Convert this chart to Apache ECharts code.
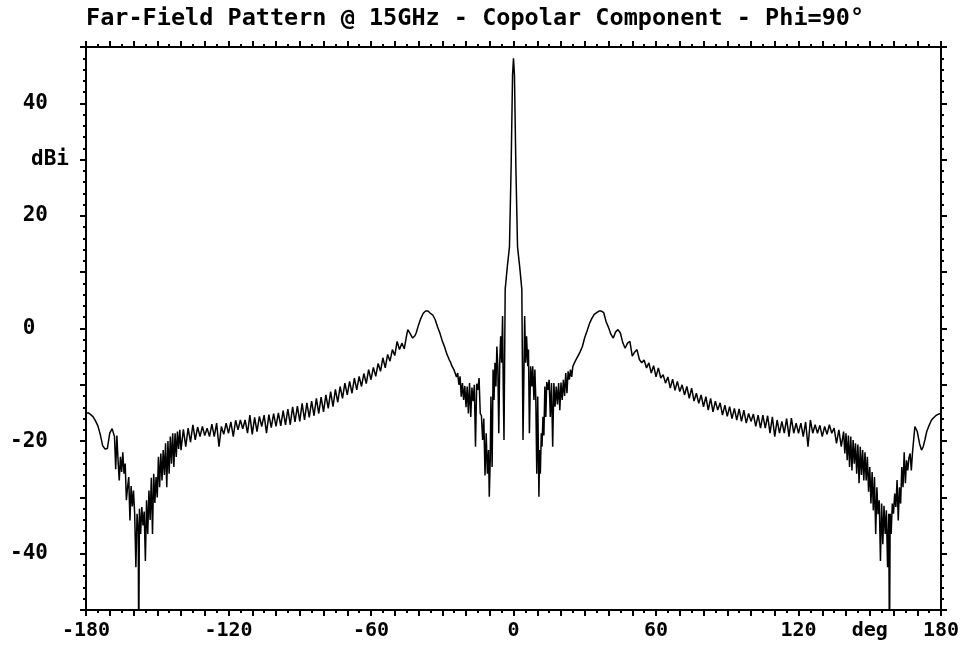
<!DOCTYPE html>
<html>
<head>
<meta charset="utf-8">
<title>Far-Field Pattern</title>
<script src="https://cdn.jsdelivr.net/npm/echarts@6/dist/echarts.min.js"></script>
<style>
html, body { margin: 0; padding: 0; background: #fff; }
#chart { width: 971px; height: 651px; }
</style>
</head>
<body>
<div id="chart"></div>
<script>
var titleText = 'Far-Field Pattern @ 15GHz - Copolar Component - Phi=90\u00b0';
var xTickLabels = {'-180': '-180', '-120': '-120', '-60': '-60', '0': '0', '60': '60', '120': '120', '150': 'deg', '180': '180'};
var yTickLabels = {'40': ' 40', '30': 'dBi', '20': ' 20', '0': ' 0', '-20': '-20', '-40': '-40'};

// [deg, dBi]
var farLeft = [
	[-180, -15.0], [-179, -15.0], [-178, -15.3], [-177, -15.7], [-176, -16.4], [-175, -17.3],
	[-174, -18.8], [-173, -20.8], [-172, -21.4], [-171, -21.3], [-170, -18.6], [-169, -17.8],
	[-168.5, -17.7], [-168, -19.2], [-167.5, -25.0], [-167, -19.0], [-166.5, -23.5], [-166, -27.0],
	[-165.5, -22.8], [-165, -25.5], [-164.5, -22.0], [-164, -25.8], [-163.5, -24.0], [-163, -30.5],
	[-162.5, -28.2], [-162, -26.4], [-161.5, -34.1], [-161, -28.0], [-160.5, -31.6], [-160, -28.8],
	[-159.5, -33.0], [-159, -42.4], [-158.5, -32.9], [-158, -36.0], [-157.8, -58.0], [-157.5, -32.0],
	[-157, -36.5], [-156.5, -31.7], [-156, -35.0], [-155.5, -32.5], [-155, -41.3], [-154.5, -30.5],
	[-154, -36.5], [-153.5, -28.8], [-153, -34.0], [-152.5, -26.5], [-152, -36.5], [-151.5, -25.8],
	[-151, -31.0], [-150.5, -26.4], [-150, -30.0], [-149.5, -22.8], [-149, -28.2], [-148.5, -22.2],
	[-148, -27.0], [-147.5, -21.6], [-147, -26.0], [-146.5, -20.4], [-146, -28.2], [-145.5, -20.0],
	[-145, -25.8], [-144.5, -19.2], [-144, -24.0], [-143.5, -18.6], [-143, -24.6], [-142.5, -18.6],
	[-142, -22.8], [-141.5, -18.3], [-141, -21.4], [-140.5, -18.0], [-140, -21.6], [-139, -17.9],
	[-138, -21.0], [-137, -17.7], [-136, -20.2], [-135, -17.1], [-134, -19.8], [-133, -17.5],
	[-132, -19.2], [-131, -17.4], [-130, -19.0], [-129, -17.7], [-128, -19.2], [-127, -17.0],
	[-126, -19.2], [-125, -16.8], [-124, -21.0], [-123, -17.4], [-122, -18.8], [-121, -16.8],
	[-120, -18.6], [-119, -16.6], [-118, -19.2], [-117, -16.3], [-116, -18.0], [-115, -16.25],
	[-114, -17.8], [-113, -16.25], [-112, -18.6], [-111, -15.4], [-110, -18.8], [-109, -15.8],
	[-108, -18.3], [-107, -15.6], [-106, -17.4], [-105, -15.4], [-104, -18.6], [-103, -15.3],
	[-102, -17.6], [-101, -15.1], [-100, -17.4], [-99, -15.0], [-98, -17.3], [-97, -14.6],
	[-96, -17.1], [-95, -14.3], [-94, -17.1], [-93, -13.9], [-92, -16.6], [-91, -13.8],
	[-90, -16.5], [-89, -13.3], [-88, -16.25], [-87, -13.2], [-86, -15.8], [-85, -12.9],
	[-84, -15.5], [-83, -12.4], [-82, -15.1], [-81, -12.2], [-80, -14.8], [-79, -11.8],
	[-78, -14.2], [-77, -11.2], [-76, -13.9], [-75, -10.8], [-74, -13.1], [-73, -10.3],
	[-72, -12.4], [-71, -9.7], [-70, -11.8], [-69, -9.4], [-68, -11.5], [-67, -8.8],
	[-66, -10.9], [-65, -8.5], [-64, -10.3], [-63, -8.0], [-62, -9.8], [-61, -7.3],
	[-60, -9.1], [-59, -6.9], [-58, -8.5], [-57, -6.2], [-56, -7.6], [-55, -5.2],
	[-54, -7.0], [-53, -4.6], [-52, -5.8], [-51, -3.75], [-50, -4.8], [-49, -2.3],
	[-48, -3.75], [-47, -2.6], [-46, -3.6], [-45, -1.2], [-44.5, -0.2], [-43.5, -0.9],
	[-42.5, -1.7], [-41.5, -1.3], [-41, -0.8], [-40, 0.6], [-39, 1.8], [-38, 2.7],
	[-37, 3.1], [-36, 3.1]
];

var nearLeft = [
	[-35, 2.7], [-34, 2.4], [-33, 1.6], [-32, 0.3], [-31, -0.8], [-30, -2.2], [-29, -3.3],
	[-28, -4.6], [-27, -5.6], [-26.5, -6.0], [-26, -6.6], [-25.5, -6.3], [-25, -7.4],
	[-24.5, -7.2], [-24, -8.6], [-23.5, -7.9], [-23, -10.0], [-22.5, -8.5], [-22, -12.1],
	[-21.5, -9.7], [-21, -12.7], [-20.5, -10.2], [-20, -14.0], [-19.5, -10.3], [-19, -15.1],
	[-18.5, -9.7], [-18, -15.7], [-17.5, -10.5], [-17, -12.9], [-16.5, -10.0], [-16, -21.0],
	[-15.5, -9.8], [-15, -10.9], [-14.5, -8.8], [-14, -15.1], [-13.5, -15.5], [-13, -19.8],
	[-12.5, -16.0], [-12, -26.1], [-11.5, -18.6], [-11, -25.8], [-10.5, -21.6], [-10.2, -29.9],
	[-9.8, -23.4], [-9.5, -12.1], [-9, -24.6], [-8.6, -7.3], [-8.2, -12.7], [-7.8, -6.1],
	[-7.4, -10.3], [-7, -3.2], [-6.6, -6.7], [-6.2, -18.6], [-5.8, -6.1], [-5.4, -1.4],
	[-5, -6.1], [-4.6, 2.2], [-4.3, -10.9], [-4, -19.8]
];

var mainLobe = [
	[-3.5, 7.0], [-2.6, 11.0], [-1.7, 14.5], [-1.0, 28.7], [-0.4, 45.0], [0, 48.0],
	[0.4, 45.0], [1.0, 28.7], [1.7, 14.5], [2.6, 11.0], [3.5, 7.0]
];

var nearRight = [
	[4.0, -19.8], [4.3, -10.9], [4.7, 2.2], [5.1, -6.1], [5.5, -1.4], [6.0, -6.7], [6.3, -3.75],
	[6.7, -18.6], [7.2, -6.7], [7.7, -10.3], [8.1, -6.7], [8.6, -12.7], [9.0, -7.3], [9.4, -12.7],
	[9.8, -25.8], [10.2, -12.1], [10.7, -29.9], [11.0, -21.6], [11.3, -25.8], [11.7, -18.6],
	[12.0, -21.0], [12.4, -15.7], [12.8, -19.0], [13.2, -10.3], [13.6, -15.7], [14.0, -9.5],
	[14.5, -10.9], [15.0, -9.1], [15.5, -15.7], [16.0, -9.7], [16.5, -21.0], [17.0, -9.7],
	[17.5, -13.9], [18.0, -10.3], [18.5, -13.5], [19.0, -9.7], [19.5, -14.5], [20.0, -9.6],
	[20.5, -12.7], [21.0, -9.1], [21.5, -12.0], [22.0, -7.9], [22.5, -11.5], [23.0, -7.6],
	[23.5, -9.1], [24.0, -7.3], [24.5, -8.6], [25, -6.7], [26, -5.8], [27, -5.0], [28, -4.2],
	[29, -3.2], [30, -1.6], [31, -0.4], [32, 0.9], [33, 1.8], [34, 2.5], [35, 2.8], [36, 3.1],
	[37, 3.1], [38, 2.8]
];

var farRight = [
	[39, 1.2], [40, 0.2], [41, -1.0], [42, -1.7], [43, -0.6], [44, -0.2], [45, -0.8], [46, -2.5],
	[47, -3.5], [48, -2.6], [49, -2.3], [50, -4.9], [51, -4.2], [52, -3.75], [53, -5.5], [54, -6.1],
	[55, -5.6], [56, -7.0], [57, -6.1], [58, -7.9], [59, -6.6], [60, -8.6], [61, -7.0], [62, -8.8],
	[63, -8.2], [64, -9.7], [65, -8.6], [66, -10.6], [67, -9.0], [68, -11.0], [69, -9.4], [70, -11.2],
	[71, -10.0], [72, -11.8], [73, -10.3], [74, -12.4], [75, -10.6], [76, -12.9], [77, -11.5],
	[78, -13.3], [79, -11.8], [80, -13.9], [81, -12.1], [82, -14.5], [83, -12.4], [84, -14.8],
	[85, -12.9], [86, -14.5], [87, -13.2], [88, -15.4], [89, -13.6], [90, -15.6], [91, -13.9],
	[92, -16.0], [93, -14.2], [94, -16.25], [95, -14.3], [96, -16.5], [97, -14.5], [98, -16.8],
	[99, -15.1], [100, -16.5], [101, -15.2], [102, -17.4], [103, -15.4], [104, -17.7], [105, -15.4],
	[106, -17.7], [107, -15.5], [108, -18.6], [109, -15.7], [110, -19.2], [111, -16.25], [112, -18.6],
	[113, -16.5], [114, -18.6], [115, -16.0], [116, -19.2], [117, -15.9], [118, -18.6], [119, -16.8],
	[120, -18.6], [121, -16.8], [122, -19.2], [123, -16.6], [124, -21.0], [125, -16.25], [126, -18.6],
	[127, -17.1], [128, -18.6], [129, -17.2], [130, -19.2], [131, -17.4], [132, -18.8], [133, -17.1],
	[134, -18.6], [135, -17.7], [136, -20.4], [137, -18.0], [138, -21.0], [139, -18.3], [139.5, -22.2],
	[140, -18.6], [140.5, -23.4], [141, -19.0], [141.5, -24.6], [142, -19.2], [142.5, -25.2],
	[143, -19.8], [143.5, -24.0], [144, -20.4], [144.5, -25.8], [145, -20.6], [145.5, -27.5],
	[146, -21.0], [146.5, -26.0], [147, -21.6], [147.5, -27.0], [148, -22.0], [148.5, -27.0],
	[149, -22.8], [149.5, -29.0], [150, -24.6], [150.5, -31.1], [151, -25.5], [151.5, -32.3],
	[152, -26.4], [152.5, -36.5], [153, -28.2], [153.5, -33.0], [154, -30.5], [154.5, -41.3],
	[155, -31.1], [155.5, -38.3], [156, -31.5], [156.5, -36.5], [157, -32.3], [157.5, -42.4],
	[158, -32.9], [158.3, -58.0], [158.6, -32.9], [159, -36.5], [159.5, -31.1], [160, -32.9],
	[160.5, -29.3], [161, -31.7], [161.5, -26.9], [162, -34.1], [162.5, -28.2], [163, -31.1],
	[163.5, -24.6], [164, -28.2], [164.5, -22.0], [165, -27.5], [165.5, -23.4], [166, -25.2],
	[166.5, -23.0], [167, -22.2], [167.5, -25.2], [168, -22.0], [168.5, -22.2], [169, -17.4],
	[169.5, -17.6], [170, -18.3], [171, -20.5], [171.8, -21.6], [172.5, -21.0], [173.2, -19.8],
	[174, -18.3], [175, -17.2], [176, -16.25], [177, -15.8], [178, -15.4], [179, -15.2], [180, -15.1]
];

var pattern = farLeft.concat(nearLeft, mainLobe, nearRight, farRight);

var font = 'DejaVu Sans Mono';
var black = '#000';

function xAxisDef(pos, showLabels) {
	return {
		type: 'value',
		position: pos,
		min: -180,
		max: 180,
		interval: 10,
		axisLine: {show: true, onZero: false, lineStyle: {color: black, width: 2}},
		axisTick: {show: true, inside: false, length: 6, lineStyle: {color: black, width: 2}},
		minorTick: {show: true, splitNumber: 2, length: 3, lineStyle: {color: black, width: 2}},
		splitLine: {show: false},
		axisLabel: {
			show: showLabels,
			margin: 11,
			color: black,
			fontFamily: font,
			fontWeight: 'bold',
			fontSize: 20,
			formatter: function (v) {
				var s = xTickLabels[String(v)];
				return s === undefined ? '' : s;
			}
		}
	};
}

function yAxisDef(pos, showLabels) {
	return {
		type: 'value',
		position: pos,
		min: -50,
		max: 50,
		interval: 10,
		axisLine: {show: true, onZero: false, lineStyle: {color: black, width: 2}},
		axisTick: {show: true, inside: false, length: 6, lineStyle: {color: black, width: 2}},
		minorTick: {show: true, splitNumber: 5, length: 3, lineStyle: {color: black, width: 2}},
		splitLine: {show: false},
		axisLabel: {
			show: showLabels,
			margin: 76,
			align: 'left',
			color: black,
			fontFamily: font,
			fontWeight: 'bold',
			fontSize: 21,
			formatter: function (v) {
				var s = yTickLabels[String(v)];
				if (s === undefined) return '';
				if (s === 'dBi') return '{u|dBi}';
				return s;
			},
			rich: {
				u: {padding: [0, 0, 0, 21], fontFamily: font, fontWeight: 'bold', fontSize: 21, color: black}
			}
		}
	};
}

var chart = echarts.init(document.getElementById('chart'));
chart.setOption({
	animation: false,
	backgroundColor: '#fff',
	title: {
		text: titleText,
		left: 86,
		top: 7,
		padding: 0,
		textStyle: {color: black, fontFamily: font, fontWeight: 'bold', fontSize: 23.5}
	},
	grid: {left: 86, right: 30, top: 47, bottom: 41, containLabel: false},
	xAxis: [xAxisDef('bottom', true), xAxisDef('top', false)],
	yAxis: [yAxisDef('left', true), yAxisDef('right', false)],
	series: [{
		type: 'line',
		data: pattern,
		xAxisIndex: 0,
		yAxisIndex: 0,
		showSymbol: false,
		clip: true,
		lineStyle: {color: black, width: 1.5}
	}]
});
</script>
</body>
</html>
